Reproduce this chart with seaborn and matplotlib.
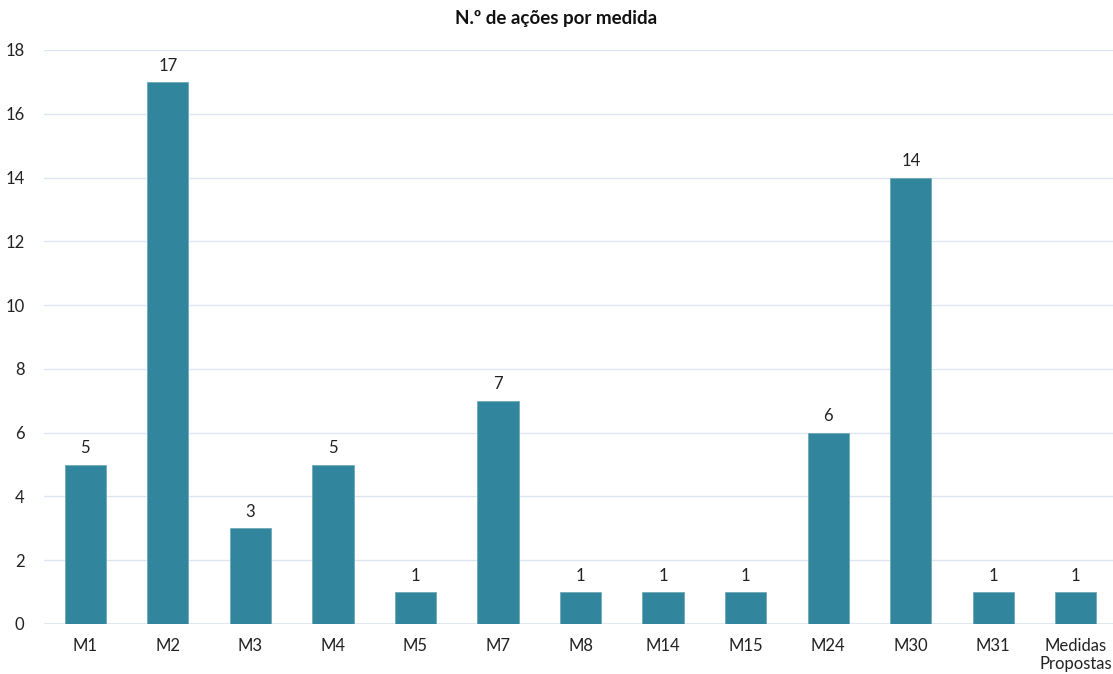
import matplotlib.pyplot as plt
import seaborn as sns
import pandas as pd

# Data
medidas = ["M1", "M2", "M3", "M4", "M5", "M7", "M8", "M14", "M15", "M24", "M30", "M31", "Medidas\nPropostas"]
acoes = [5, 17, 3, 5, 1, 7, 1, 1, 1, 6, 14, 1, 1]

df = pd.DataFrame({"medida": medidas, "acoes": acoes})

sns.set_style("white")
plt.rcParams["font.family"] = ["Lato", "DejaVu Sans"]

fig = plt.figure(figsize=(11.13, 6.74), dpi=100)
ax = fig.add_axes([44 / 1113, 50 / 674, 1069 / 1113, 574 / 674])

sns.barplot(data=df, x="medida", y="acoes", color="#31859C", width=0.5,
            edgecolor="#6FA8B8", linewidth=0.6, saturation=1, ax=ax, zorder=3)

ax.set_ylim(0, 18)
ax.set_xlim(-0.5, 12.45)
ax.set_yticks(range(0, 19, 2))
ax.yaxis.grid(True, color="#DCE6F2", linewidth=1, zorder=0)
ax.set_axisbelow(True)
for s in ax.spines.values():
    s.set_visible(False)
ax.axhline(0, color="#DCE6F2", linewidth=1.2, zorder=1)

ax.tick_params(axis="both", length=0, labelsize=12, colors="#222222")
ax.tick_params(axis="x", pad=10)
ax.tick_params(axis="y", pad=14)
for lbl in ax.get_xticklabels():
    lbl.set_linespacing(1.2)
ax.set_xlabel("")
ax.set_ylabel("")

ax.bar_label(ax.containers[0], labels=[str(v) for v in acoes], padding=6,
             fontsize=12, color="#222222")

fig.suptitle("N.º de ações por medida", y=0.985, fontsize=13.5, fontweight="bold", color="#111111")

fig.savefig("out.png", dpi=100)
